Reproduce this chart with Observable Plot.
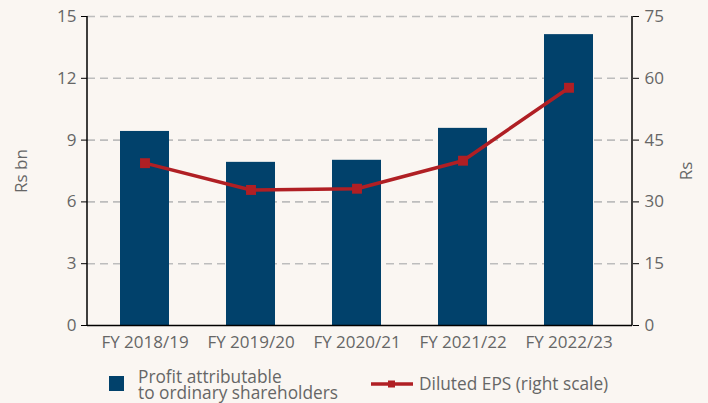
<!DOCTYPE html>
<html>
<head>
<meta charset="utf-8">
<script src="https://cdn.jsdelivr.net/npm/d3@7"></script>
<script src="https://cdn.jsdelivr.net/npm/@observablehq/plot@0.6"></script>
<style>
  html, body { margin: 0; padding: 0; background: #faf6f2; }
  #wrap { position: relative; width: 708px; height: 403px; font-family: "Open Sans", sans-serif; color: #666; }
  .leg { position: absolute; font-size: 17.3px; line-height: 16px; height: 16px; color: #666; white-space: nowrap; }
  .sw { position: absolute; background: #01416b; }
</style>
</head>
<body>
<div id="wrap">
  <div id="chart"></div>
  <div class="sw" style="left:109px; top:376px; width:15px; height:15px;"></div>
  <div class="leg" style="left:138px; top:369px;">Profit attributable</div>
  <div class="leg" style="left:138px; top:385px;">to ordinary shareholders</div>
  <svg style="position:absolute; left:370px; top:378px;" width="44" height="12">
    <line x1="1" y1="6" x2="43" y2="6" stroke="#b01f24" stroke-width="3.5"/>
    <rect x="18" y="2.5" width="7" height="7" fill="#b01f24"/>
  </svg>
  <div class="leg" style="left:419px; top:376px;">Diluted EPS (right scale)</div>
</div>
<script>
const years = ["FY 2018/19", "FY 2019/20", "FY 2020/21", "FY 2021/22", "FY 2022/23"];
const profit = [9.42, 7.92, 8.02, 9.57, 14.12];
const eps = [39.4, 32.9, 33.2, 40.0, 57.7];
const leftTicks = [0, 3, 6, 9, 12, 15];
const rightTicks = [0, 15, 30, 45, 60, 75];
const ratio = 75 / 15;

const data = years.map((y, i) => ({year: y, profit: profit[i], eps: eps[i]}));

const W = 708, H = 350, mL = 87, mR = 76, mT = 16, mB = 25;

const chart = Plot.plot({
  width: W,
  height: H,
  marginLeft: mL,
  marginRight: mR,
  marginTop: mT,
  marginBottom: mB,
  style: {background: "transparent", fontFamily: "Open Sans, sans-serif", fontSize: "17px", color: "#666", overflow: "visible"},
  x: {domain: years, type: "band", paddingInner: 0.54, paddingOuter: 0.34, align: 0.46},
  y: {domain: [0, 15]},
  marks: [
    Plot.gridY(leftTicks.filter(d => d > 0), {stroke: "#bdbdbd", strokeOpacity: 1, strokeWidth: 1.6, strokeDasharray: "8,5"}),
    Plot.barY(data, {x: "year", y: "profit", fill: "#01416b"}),
    Plot.line(data, {x: "year", y: d => d.eps / ratio, stroke: "#b01f24", strokeWidth: 3.5}),
    Plot.dot(data, {x: "year", y: d => d.eps / ratio, symbol: "square", r: 5.6, fill: "#b01f24", stroke: "none"}),
    Plot.ruleY([0], {stroke: "#000", strokeWidth: 1.5}),
    Plot.axisY(leftTicks, {anchor: "left", tickSize: 6, tickPadding: 5, stroke: "#000", fill: "#666", label: "Rs bn", labelAnchor: "center", labelOffset: 73, labelArrow: "none"}),
    Plot.axisY(leftTicks, {anchor: "right", tickSize: 6, tickPadding: 6, stroke: "#000", fill: "#666", tickFormat: d => d * ratio, label: "Rs", labelAnchor: "center", labelOffset: 59, labelArrow: "none"}),
    Plot.axisX({tickSize: 0, tickPadding: 10, fill: "#666", label: null})
  ]
});
document.getElementById("chart").appendChild(chart);

const svg = d3.select(chart);
[mL, W - mR].forEach(x => {
  svg.append("line").attr("x1", x).attr("x2", x).attr("y1", mT).attr("y2", H - mB + 0.5)
    .attr("stroke", "#000").attr("stroke-width", 1.5);
});
</script>
</body>
</html>
